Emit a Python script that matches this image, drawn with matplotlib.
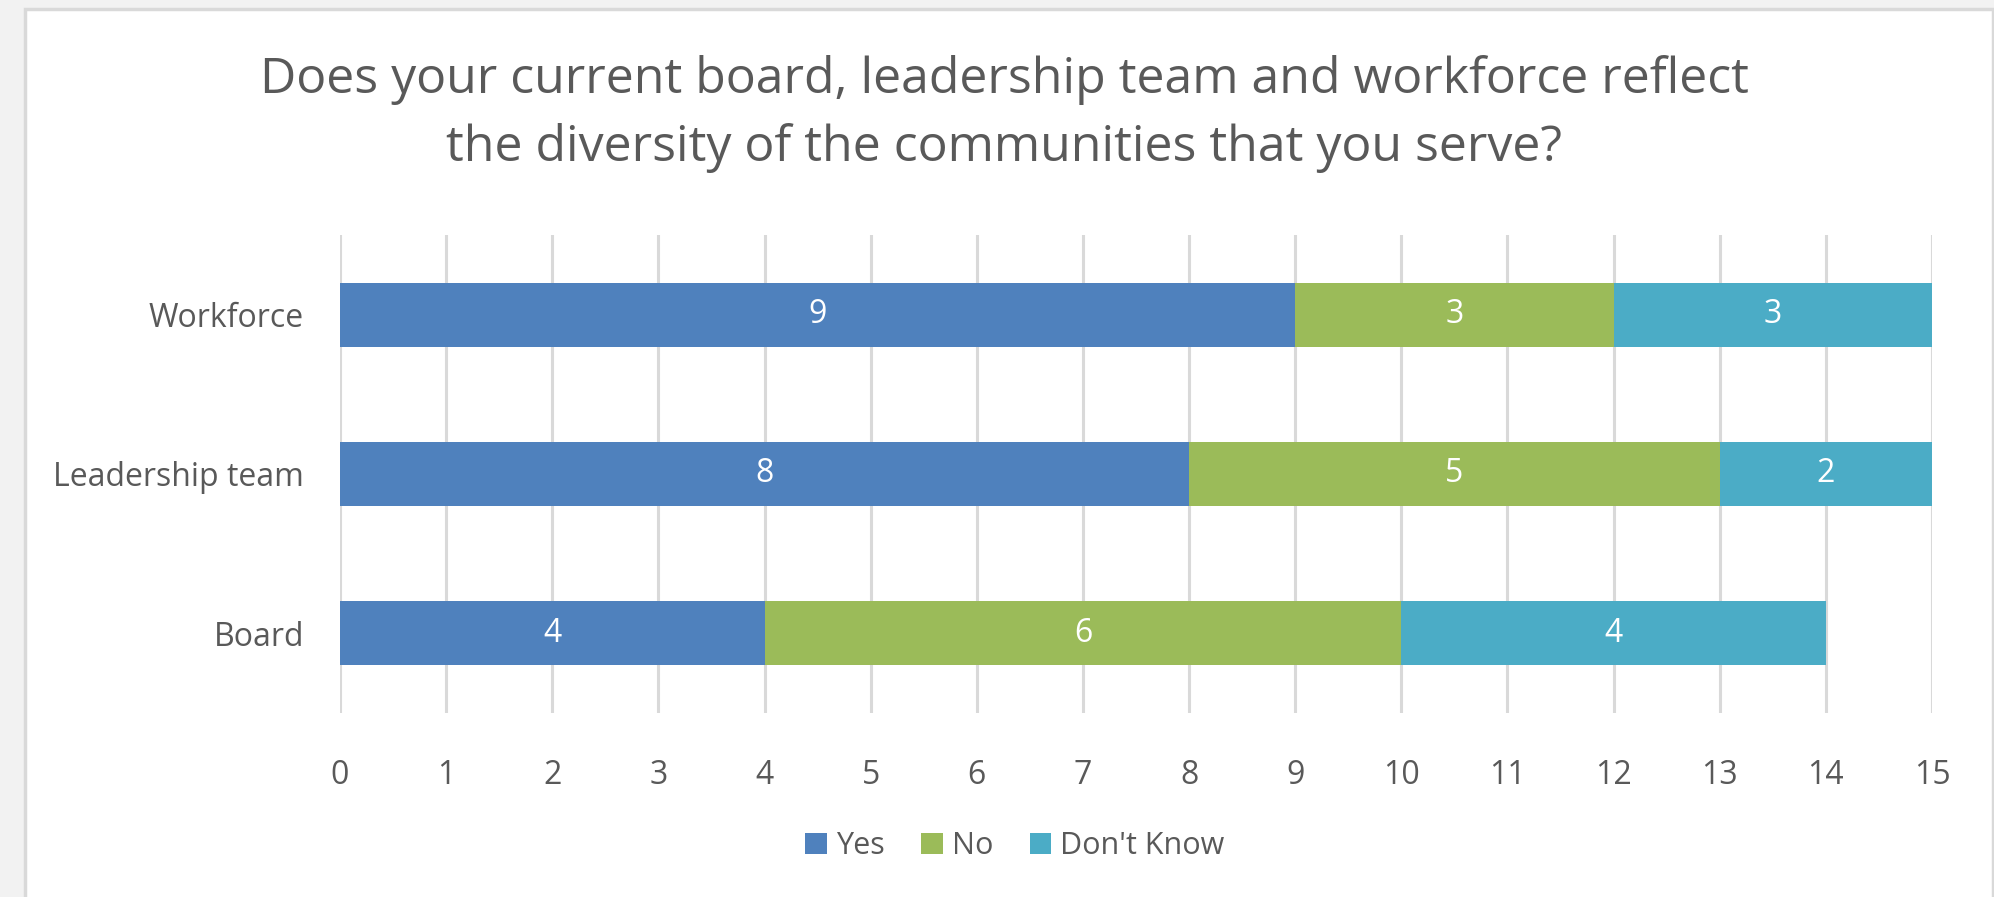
import numpy as np
import matplotlib.pyplot as plt
from matplotlib.patches import Rectangle

# data
categories = ['Board', 'Leadership team', 'Workforce']
yes = [4, 8, 9]
no = [6, 5, 3]
dont_know = [4, 2, 3]
series_names = ['Yes', 'No', "Don't Know"]
colors = ['#4F81BD', '#9BBB59', '#4BACC6']
title = 'Does your current board, leadership team and workforce reflect\nthe diversity of the communities that you serve?'

plt.rcParams['font.family'] = ['Open Sans', 'DejaVu Sans']
text_color = '#595959'

W, H = 1994, 897
fig = plt.figure(figsize=(W / 100, H / 100), dpi=100)
fig.patch.set_facecolor('#f2f2f2')

# white chart panel with thin grey border
fig.patches.append(Rectangle((25 / W, -0.01), (1993 - 25) / W, 1.01 - 9 / H,
                             transform=fig.transFigure, facecolor='white',
                             edgecolor='#d9d9d9', linewidth=2.5, zorder=-5))

ax = fig.add_axes([340 / W, 1 - 713 / H, (1932 - 340) / W, (713 - 235) / H])
ax.set_facecolor('none')
ax.set_zorder(2)

y = np.arange(len(categories))
left = np.zeros(len(categories))
for vals, name, c in zip([yes, no, dont_know], series_names, colors):
    bars = ax.barh(y, vals, left=left, height=0.4, color=c, label=name, zorder=3)
    ax.bar_label(bars, labels=[str(v) for v in vals], label_type='center',
                 color='white', fontsize=23)
    left += np.array(vals)

ax.set_xlim(0, 15)
ax.set_ylim(-0.5, 2.5)
ax.set_xticks(range(0, 16))
ax.set_yticks(y)
ax.set_yticklabels(categories)
ax.grid(axis='x', color='#d9d9d9', linewidth=2.2, zorder=0)
ax.tick_params(axis='both', length=0, labelsize=23, labelcolor=text_color)
ax.tick_params(axis='x', pad=33)
ax.tick_params(axis='y', pad=26)
for s in ax.spines.values():
    s.set_visible(False)

fig.text(0.5035, 1 - 114 / H, title, ha='center', va='center', fontsize=36,
         color=text_color, linespacing=1.46)

handles, labels = ax.get_legend_handles_labels()
leg = fig.legend(handles, labels, loc='center', bbox_to_anchor=(1015 / W, 1 - 846 / H),
                 ncol=3, frameon=False, fontsize=22, handlelength=0.7, handleheight=0.7,
                 handletextpad=0.3, columnspacing=1.2)
for t in leg.get_texts():
    t.set_color(text_color)

fig.savefig('out.png', dpi=100, facecolor=fig.get_facecolor())
